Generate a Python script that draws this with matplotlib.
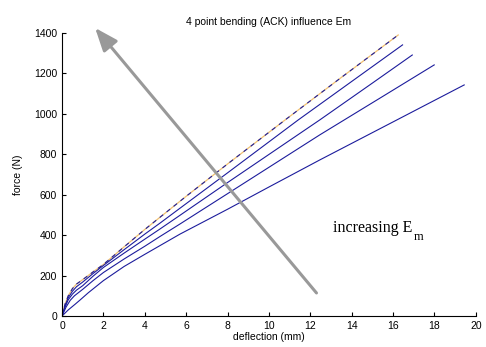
import numpy as np
import matplotlib
matplotlib.use('Agg')
import matplotlib.pyplot as plt

plt.rcParams['font.family'] = 'Liberation Sans'

# force-deflection curves, highest Em first
x1 = [0, 0.15, 0.3, 0.5, 0.7, 1, 1.5, 2, 3, 4, 4.73, 6, 8, 10.85, 13.5, 16.25]
y1 = [0, 60, 100, 135, 158, 180, 218, 255, 342, 428, 488, 592, 752, 975, 1180, 1390]
x2 = [0, 0.15, 0.3, 0.5, 0.7, 1, 1.5, 2, 3, 4, 4.73, 5.7, 8, 11.42, 14, 16.46]
y2 = [0, 52, 90, 122, 145, 168, 210, 250, 328, 405, 459, 533, 708, 970, 1160, 1341]
x3 = [0, 0.15, 0.3, 0.5, 0.7, 1, 1.5, 2, 3, 4, 4.73, 5.7, 8, 12.46, 15, 16.93]
y3 = [0, 45, 80, 108, 128, 150, 197, 240, 311, 380, 430, 498, 660, 970, 1152, 1291]
x4 = [0, 0.2, 0.4, 0.6, 0.8, 1, 1.5, 2, 3, 4, 4.73, 5.7, 8, 12.46, 15.5, 17.99]
y4 = [0, 45, 78, 100, 116, 132, 175, 215, 282, 345, 393, 455, 605, 896, 1086, 1242]
x5 = [0, 0.3, 0.63, 0.87, 1.27, 2, 3, 4, 5.7, 8, 10, 12.46, 16, 19.44]
y5 = [0, 30, 58, 79, 115, 175, 245, 305, 405, 528, 638, 772, 960, 1143]

blue = '#1c1c9c'

fig = plt.figure(figsize=(4.86, 3.47), dpi=100)
ax = fig.add_axes([0.1276, 0.0893, 0.8514, 0.8157])

ax.plot(x1, y1, '-', color='#f0c070', lw=0.9)
ax.plot(x1, y1, '--', color=blue, lw=0.8, dashes=(4, 4))
ax.plot(x2, y2, '-', color=blue, lw=0.8)
ax.plot(x3, y3, '-', color=blue, lw=0.8)
ax.plot(x4, y4, '-', color=blue, lw=0.8)
ax.plot(x5, y5, '-', color=blue, lw=0.8)

ax.set_xlim(0, 20)
ax.set_ylim(0, 1400)
ax.set_xticks(np.arange(0, 21, 2))
ax.set_yticks(np.arange(0, 1401, 200))
ax.spines['top'].set_visible(False)
ax.spines['right'].set_visible(False)
ax.tick_params(direction='in', length=3, labelsize=7.5, width=0.8)
ax.set_xlabel('deflection (mm)', fontsize=7.5, labelpad=1)
ax.set_ylabel('force (N)', fontsize=7.5, labelpad=8)
ax.set_title('4 point bending (ACK) influence Em', fontsize=7.5, pad=6)

ax.annotate('', xy=(1.6, 1425), xytext=(12.3, 114),
            arrowprops=dict(arrowstyle='-|>,head_length=1.4,head_width=0.55',
                            color='#999999', lw=2.2, shrinkA=0, shrinkB=0),
            annotation_clip=False)

t = ax.text(13.1, 416, 'increasing E', fontsize=11.5,
            family='Liberation Serif', va='baseline')
ax.annotate('m', xy=(1, 0), xycoords=t, xytext=(1, -3), textcoords='offset points',
            fontsize=9, family='Liberation Serif', va='baseline')

fig.savefig('out.png', dpi=100)
